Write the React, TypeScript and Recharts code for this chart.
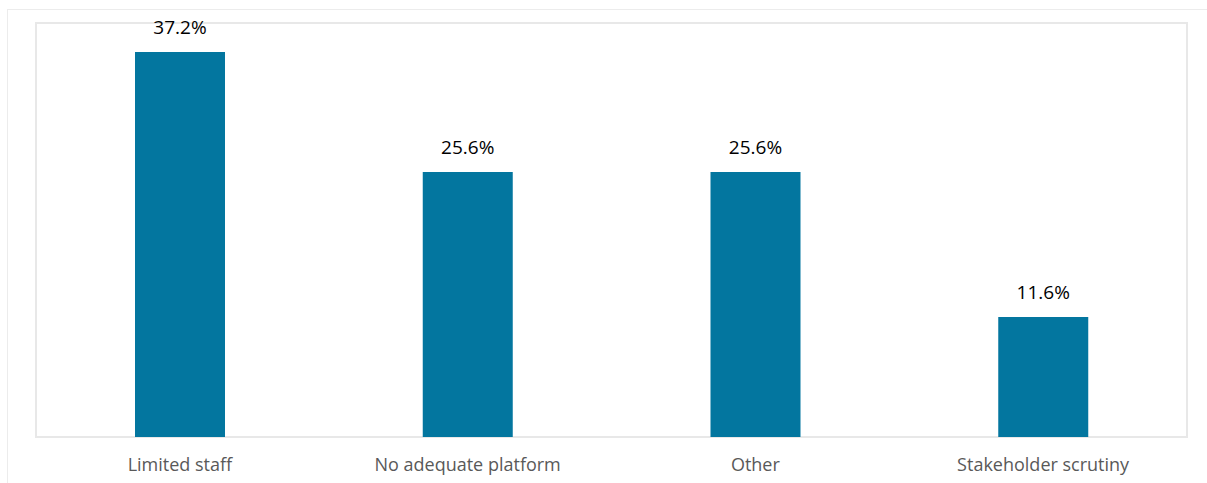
import React from 'react';
import { BarChart, Bar, XAxis, YAxis, ReferenceArea, LabelList } from 'recharts';

const categories = ['Limited staff', 'No adequate platform', 'Other', 'Stakeholder scrutiny'];
const shares = [37.2, 25.6, 25.6, 11.6];

const data = categories.map((name, i) => ({ name, value: shares[i] }));

const font = '"Open Sans", "Noto Sans", sans-serif';

const App: React.FC = () => {
  return (
    <div style={{ position: 'absolute', left: 0, top: 0, width: 1207, height: 483, background: '#fff', overflow: 'hidden' }}>
      <div
        style={{
          position: 'absolute',
          left: 7,
          top: 9,
          width: 1220,
          height: 500,
          borderTop: '1px solid #ececec',
          borderLeft: '1px solid #ececec',
        }}
      />
      <BarChart
        width={1207}
        height={483}
        data={data}
        margin={{ top: 23, right: 20, left: 36, bottom: 0 }}
        barCategoryGap={99}
        style={{ position: 'absolute', left: 0, top: 0, fontFamily: font }}
      >
        <ReferenceArea y1={0} y2={40} fill="none" stroke="#e8e8e8" strokeWidth={2} ifOverflow="visible" />
        <XAxis
          dataKey="name"
          height={46}
          axisLine={false}
          tickLine={false}
          tickMargin={15}
          tick={{ fill: '#595959', fontSize: 18, fontFamily: font }}
          interval={0}
        />
        <YAxis hide domain={[0, 40]} />
        <Bar dataKey="value" fill="#03769f" isAnimationActive={false}>
          <LabelList
            dataKey="value"
            position="top"
            offset={18}
            formatter={(v: number) => `${v.toFixed(1)}%`}
            style={{ fill: '#000', fontSize: 19, fontFamily: font }}
          />
        </Bar>
      </BarChart>
    </div>
  );
};

export default App;
